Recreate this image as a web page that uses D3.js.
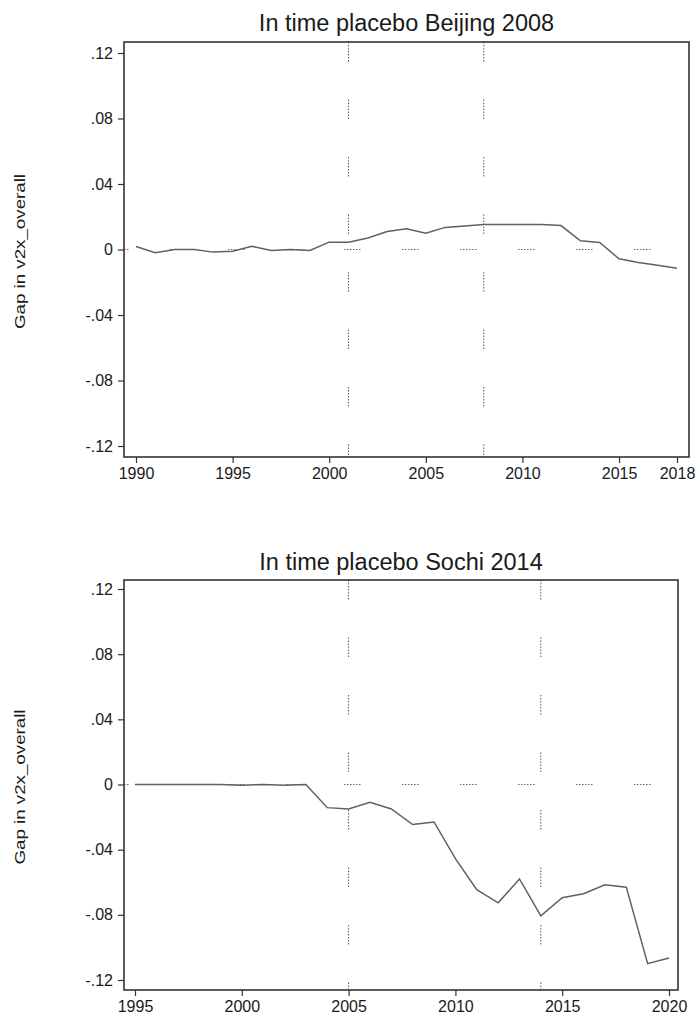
<!DOCTYPE html>
<html>
<head>
<meta charset="utf-8">
<script src="https://cdn.jsdelivr.net/npm/d3@7"></script>
<style>
  body { margin: 0; background: #fff; }
  svg { font-family: "Liberation Sans", Arial, sans-serif; }
</style>
</head>
<body>
<svg id="chart" width="699" height="1019"></svg>
<script>
// Beijing 2008 in-time placebo
var years1 = [1990, 1991, 1992, 1993, 1994, 1995, 1996, 1997, 1998, 1999,
              2000, 2001, 2002, 2003, 2004, 2005, 2006, 2007, 2008, 2009,
              2010, 2011, 2012, 2013, 2014, 2015, 2016, 2017, 2018];
var gap1 = [0.0018, -0.002, 0, 0, -0.0016, -0.001, 0.002, -0.0006, 0, -0.0006,
            0.0045, 0.0045, 0.007, 0.011, 0.0127, 0.010, 0.0135, 0.0143, 0.0152, 0.0153,
            0.0153, 0.0153, 0.0146, 0.0053, 0.0043, -0.0057, -0.008, -0.0096, -0.0115];
var xticks1 = [1990, 1995, 2000, 2005, 2010, 2015, 2018];
var vlines1 = [2001, 2008];

// Sochi 2014 in-time placebo
var years2 = [1995, 1996, 1997, 1998, 1999, 2000, 2001, 2002, 2003, 2004,
              2005, 2006, 2007, 2008, 2009, 2010, 2011, 2012, 2013, 2014,
              2015, 2016, 2017, 2018, 2019, 2020];
var gap2 = [0, 0, 0, 0, 0, -0.0004, 0, -0.0005, 0, -0.0142,
            -0.015, -0.0109, -0.015, -0.0246, -0.023, -0.0455, -0.0646, -0.0726, -0.058, -0.0806,
            -0.0695, -0.067, -0.0615, -0.063, -0.110, -0.1065];
var xticks2 = [1995, 2000, 2005, 2010, 2015, 2020];
var vlines2 = [2005, 2014];

var yticks = [-0.12, -0.08, -0.04, 0, 0.04, 0.08, 0.12];

var svg = d3.select("#chart");

// groups of fine dots separated by a gap, repeating every `period` px
function dotGroups(dots, period) {
    var parts = [];
    for (var i = 0; i < dots; i++) parts.push(1.5, 1.5);
    parts[parts.length - 1] = period - (2 * dots - 1) * 1.5;
    return parts.join(",");
}

function fmtY(v) {
    if (Math.abs(v) < 1e-9) return "0";
    var s = d3.format(".2f")(Math.abs(v)).replace(/^0/, "");
    return (v < 0 ? "-" : "") + s;
}

function drawPanel(cfg) {
    var g = svg.append("g");
    var x = d3.scaleLinear().domain(cfg.xdom).range(cfg.xr);
    var y = d3.scaleLinear().domain([-0.12, 0.12]).range(cfg.yr);

    // title
    g.append("text")
        .attr("x", (cfg.box.left + cfg.box.right) / 2)
        .attr("y", cfg.titleY)
        .attr("text-anchor", "middle")
        .style("font-size", "23.5px")
        .style("fill", "#1a1a1a")
        .text(cfg.title);

    // y axis title
    g.append("text")
        .attr("transform", "translate(25," + ((cfg.box.top + cfg.box.bottom) / 2 + 2) + ") rotate(-90)")
        .attr("text-anchor", "middle")
        .attr("textLength", 155)
        .attr("lengthAdjust", "spacingAndGlyphs")
        .style("font-size", "15px")
        .style("fill", "#1a1a1a")
        .text("Gap in v2x_overall");

    // reference lines
    g.append("line")
        .attr("x1", cfg.box.left).attr("x2", cfg.box.right)
        .attr("y1", y(0)).attr("y2", y(0))
        .attr("stroke", "#666").attr("stroke-width", 1)
        .attr("stroke-dasharray", dotGroups(6, 58))
        .attr("stroke-dashoffset", 12);
    g.selectAll(".vline").data(cfg.vlines).enter().append("line")
        .attr("x1", function(d) { return x(d); })
        .attr("x2", function(d) { return x(d); })
        .attr("y1", cfg.box.top).attr("y2", cfg.box.bottom)
        .attr("stroke", "#555").attr("stroke-width", 1)
        .attr("stroke-dasharray", dotGroups(7, 57.5));

    // series
    var line = d3.line()
        .x(function(d, i) { return x(cfg.years[i]); })
        .y(function(d) { return y(d); });
    g.append("path")
        .datum(cfg.values)
        .attr("d", line)
        .attr("fill", "none")
        .attr("stroke", "#606060")
        .attr("stroke-width", 1.5);

    // frame
    g.append("rect")
        .attr("x", cfg.box.left).attr("y", cfg.box.top)
        .attr("width", cfg.box.right - cfg.box.left)
        .attr("height", cfg.box.bottom - cfg.box.top)
        .attr("fill", "none").attr("stroke", "#333").attr("stroke-width", 1.6);

    // axes
    var yAxis = g.append("g")
        .attr("transform", "translate(" + cfg.box.left + ",0)")
        .call(d3.axisLeft(y).tickValues(yticks).tickFormat(fmtY).tickSize(6).tickPadding(5));
    var xAxis = g.append("g")
        .attr("transform", "translate(0," + cfg.box.bottom + ")")
        .call(d3.axisBottom(x).tickValues(cfg.xticks).tickFormat(d3.format("d")).tickSize(6).tickPadding(5));
    [yAxis, xAxis].forEach(function(a) {
        a.select(".domain").remove();
        a.selectAll("line").attr("stroke", "#333").attr("stroke-width", 1.2);
        a.selectAll("text")
            .style("font-size", "16px")
            .style("font-family", "'Liberation Sans', Arial, sans-serif")
            .style("fill", "#1a1a1a");
    });
}

drawPanel({
    title: "In time placebo Beijing 2008",
    titleY: 31,
    box: { left: 124, right: 689, top: 42, bottom: 457 },
    xdom: [1990, 2018], xr: [136, 677], yr: [446, 53],
    years: years1, values: gap1, xticks: xticks1, vlines: vlines1
});

drawPanel({
    title: "In time placebo Sochi 2014",
    titleY: 570,
    box: { left: 124, right: 678, top: 580, bottom: 990 },
    xdom: [1995, 2020], xr: [135, 669], yr: [980, 589],
    years: years2, values: gap2, xticks: xticks2, vlines: vlines2
});
</script>
</body>
</html>
